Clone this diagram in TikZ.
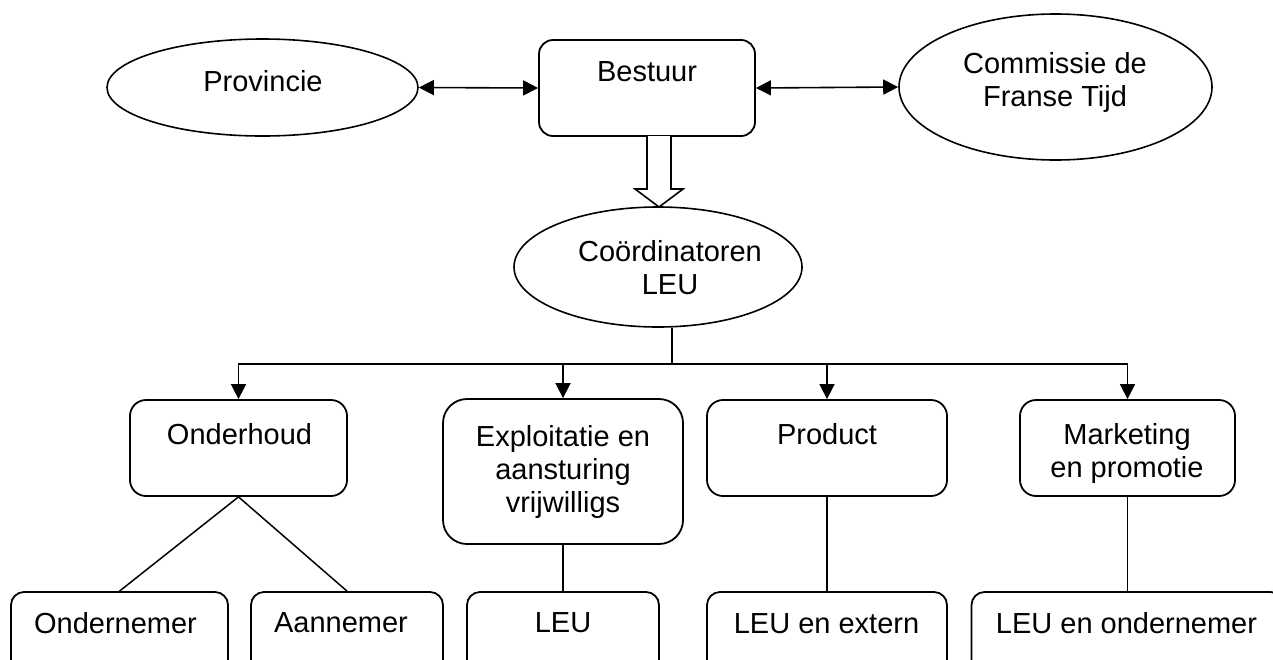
\documentclass[tikz,border=0pt]{standalone}
\usepackage{fontspec}
\setmainfont{Liberation Sans}
\usetikzlibrary{shapes.geometric,arrows.meta}
\tikzset{
  txt/.style={anchor=north,inner sep=0pt,align=center,font=\fontsize{29}{33}\selectfont},
  box/.style={draw,line width=1.8pt,rounded corners=16pt,inner sep=0pt},
  oval/.style={draw,ellipse,line width=1.6pt,inner sep=0pt},
  conn/.style={line width=1.6pt},
  arrowdown/.style={-{Triangle[length=15pt,width=15pt]}},
  twoway/.style={{Triangle[length=15pt,width=15pt]}-{Triangle[length=15pt,width=15pt]}},
}
\begin{document}
\begin{tikzpicture}[x=1pt,y=-1pt]
  \useasboundingbox (0,0) rectangle (1273,659);
  \clip (0,0) rectangle (1273,659);
  % top row
  \node[oval,minimum width=311pt,minimum height=97pt] (prov) at (262.5,87.5) {};
  \node[box,rounded corners=14pt,minimum width=216pt,minimum height=96pt] (bestuur) at (647,88) {};
  \node[oval,minimum width=313pt,minimum height=146pt] (comm) at (1055.5,87) {};
  \node[txt] (provT) at (263,70) {Provincie};
  \node[txt] (bestuurT) at (647,61) {Bestuur};
  \node[txt] (commT) at (1055,52) {Commissie de\\Franse Tijd};
  \draw[conn,twoway] (prov.east) -- (bestuur.west);
  \draw[conn,twoway] (bestuur.east) -- (comm.west);
  % hollow arrow down
  \draw[conn,fill=white] (647,136) -- (647,189) -- (635,189) -- (659,207)
    -- (683,189) -- (671,189) -- (671,136);
  \node[oval,minimum width=288pt,minimum height=120pt] (coord) at (658,267) {};
  \node[txt] (coordT) at (670,240) {Coördinatoren\\LEU};
  % middle row
  \node[box,minimum width=217pt,minimum height=96pt] (onderhoud) at (238.5,448) {};
  \node[box,rounded corners=24pt,minimum width=240pt,minimum height=145pt] (exploit) at (563,471.5) {};
  \node[box,minimum width=240pt,minimum height=96pt] (product) at (827,448) {};
  \node[box,minimum width=215pt,minimum height=96pt] (market) at (1127.5,448) {};
  \node[txt] (onderhoudT) at (239.5,423) {Onderhoud};
  \node[txt] (exploitT) at (563,425) {Exploitatie en\\aansturing\\vrijwilligs};
  \node[txt] (productT) at (827,423) {Product};
  \node[txt] (marketT) at (1127,423) {Marketing\\en promotie};
  \coordinate (hub) at (672,364);
  \draw[conn] (hub) -- (hub |- coord.south);
  \foreach \t in {onderhoud,exploit,product,market}
    \draw[conn,arrowdown] (hub) -| (\t.north);
  % bottom row
  \node[box,rounded corners=13pt,minimum width=217pt,minimum height=100pt] (ondern) at (119.5,642) {};
  \node[box,rounded corners=13pt,minimum width=192pt,minimum height=100pt] (aann) at (347,642) {};
  \node[box,rounded corners=13pt,minimum width=192pt,minimum height=100pt] (leu) at (563,642) {};
  \node[box,rounded corners=13pt,minimum width=240pt,minimum height=100pt] (extern) at (827,642) {};
  \node[box,rounded corners=13pt,minimum width=312pt,minimum height=100pt] (leuond) at (1127.5,642) {};
  \node[txt] (ondernT) at (115.5,612) {Ondernemer};
  \node[txt] (aannT) at (341,612) {Aannemer};
  \node[txt] (leuT) at (563,612) {LEU};
  \node[txt] (externT) at (826.5,613) {LEU en extern};
  \node[txt] (leuondT) at (1126.5,612) {LEU en ondernemer};
  \draw[conn,line width=1.5pt] (onderhoud.south) -- (ondern.north);
  \draw[conn,line width=1.5pt] (onderhoud.south) -- (aann.north);
  \foreach \a/\b in {exploit/leu,product/extern,market/leuond}
    \draw[conn,line width=1.5pt] (\a.south) -- (\b.north);
\end{tikzpicture}
\end{document}
